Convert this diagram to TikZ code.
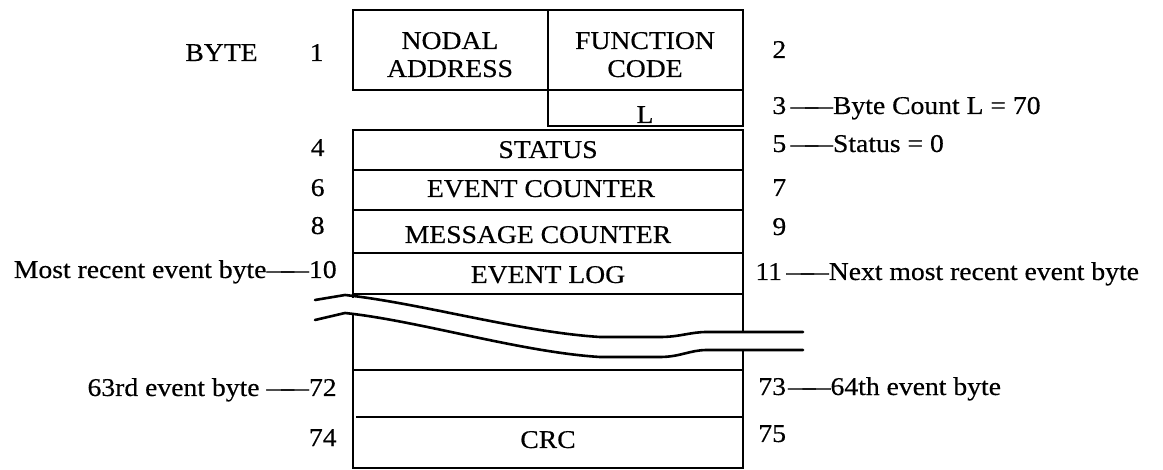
\documentclass[tikz,border=0pt]{standalone}
\usepackage{fontspec}
\setmainfont{Liberation Serif}[FakeStretch=1.08,FakeBold=0.4]
\newcommand\longdash{\textemdash\kern-0.5em\textemdash}
\begin{document}
\begin{tikzpicture}[x=0.5pt,y=-0.5pt,
  frame/.style={line width=1.3pt, line cap=rect},
  brk/.style={line width=1.3pt, line cap=round, line join=round},
  txt/.style={inner sep=0pt, anchor=base, font=\fontsize{12.8}{14}\selectfont},
  ltxt/.style={txt, anchor=base east},
  rtxt/.style={txt, anchor=base west}]
\useasboundingbox (0,0) rectangle (1163,470);
% frame: top cells
\draw[frame] (353,10) rectangle (743,90);
\draw[frame] (548,10) -- (548,126) -- (743,126) -- (743,90);
% upper block
\draw[frame] (353,297) -- (353,130) -- (743,130) -- (743,331);
\draw[frame] (353,170) -- (743,170);
\draw[frame] (353,210) -- (743,210);
\draw[frame] (353,253) -- (743,253);
\draw[frame] (353,294) -- (743,294);
% lower block
\draw[frame] (353,316) -- (353,468) -- (743,468) -- (743,351);
\draw[frame] (353,370) -- (743,370);
\draw[frame] (357,417) -- (743,417);
% break lines
\draw[brk] (315,300) -- (345,295) .. controls (420,303) and (520,332) .. (600,337) -- (660,337) .. controls (680,337) and (690,332) .. (707,332) -- (803,332);
\draw[brk] (315,320) -- (345,313) .. controls (420,321) and (520,352) .. (600,357) -- (660,357) .. controls (680,357) and (690,350) .. (707,350) -- (803,350);
% cell texts
\node[txt] (nodal) at (450,49) {NODAL};
\node[txt] (address) at (450,77) {ADDRESS};
\node[txt] (function) at (645,49) {FUNCTION};
\node[txt] (code) at (645,77) {CODE};
\node[txt] (l) at (645,123) {L};
\node[txt] (status) at (548,158) {STATUS};
\node[txt] (evcount) at (541,197) {EVENT COUNTER};
\node[txt] (msgcount) at (538,243) {MESSAGE COUNTER};
\node[txt] (evlog) at (548,283) {EVENT LOG};
\node[txt] (crc) at (548,448) {CRC};
% left labels
\node[ltxt] (byte) at (258,61) {BYTE};
\node[ltxt] (b1) at (324,61) {1};
\node[ltxt] (b4) at (325,156) {4};
\node[ltxt] (b6) at (325,196) {6};
\node[ltxt] (b8) at (325,234) {8};
\node[ltxt] (b10) at (337,278) {Most recent event byte\longdash 10};
\node[ltxt] (b72) at (337,396) {63rd event byte \longdash 72};
\node[ltxt] (b74) at (337,446) {74};
% right labels
\node[rtxt] (b2) at (772,58) {2};
\node[rtxt] (b3) at (772,114) {3\,\longdash Byte Count L = 70};
\node[rtxt] (b5) at (772,152) {5\,\longdash Status = 0};
\node[rtxt] (b7) at (772,196) {7};
\node[rtxt] (b9) at (772,235) {9};
\node[rtxt] (b11) at (755,280) {11\,\longdash Next most recent event byte};
\node[rtxt] (b73) at (758,395) {73\kern1pt\longdash 64th event byte};
\node[rtxt] (b75) at (758,442) {75};
\end{tikzpicture}
\end{document}
